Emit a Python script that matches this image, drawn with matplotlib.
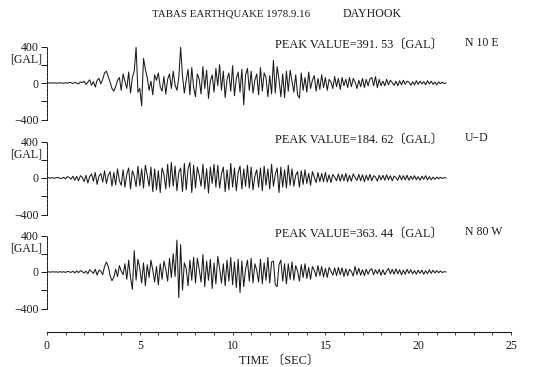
import numpy as np
import matplotlib
matplotlib.use("Agg")
import matplotlib.pyplot as plt

plt.rcParams['font.family'] = ['Liberation Serif', 'Noto Sans CJK JP', 'DejaVu Sans']

DT = 0.1  # sample interval (s)

n10e = [
    0, 0, 2, -2, 1, 0, -1, 2, 0, -3,
    3, -2, 6, 2, -5, 8, -3, -10, 12, 4,
    20, -15, 10, 35, -25, 15, -45, 30, 50, -10,
    40, 110, 130, 70, 10, -60, -90, -40, 30, 60,
    -80, 100, 20, -60, 120, -110, 60, 130, 390, -100,
    -60, -250, 270, 150, 60, -80, 20, -130, 90, 30,
    110, -40, -90, 70, -120, 40, 100, -60, 130, -20,
    -80, 60, 390, 80, -110, 30, 150, -130, 170, -50,
    -150, 100, 40, -120, 180, -60, 140, -170, 20, 90,
    -100, 160, -30, 200, -80, 130, -160, 40, 110, -90,
    190, -140, 50, 120, -100, 150, -240, 90, 160, -80,
    130, -110, 30, 100, -130, 170, -90, 110, 60, -150,
    80, -120, 250, -110, 180, 40, -150, 100, -160, 130,
    -90, 140, 20, -100, 90, -130, -165, 110, -80, 60,
    -100, 120, -60, 30, 80, -90, 50, -70, 90, -50,
    60, -80, 40, 10, -60, 70, -40, 50, -70, 60,
    -30, 40, -50, 60, -40, 50, 10, -60, 30, -40,
    50, -50, 40, -30, 45, 60, -30, 70, -50, 40,
    -30, 20, -30, 40, -20, 30, 5, -25, 20, -30,
    25, -20, 30, -15, 20, 10, -25, 15, -20, 25,
    -15, 20, -10, 15, -20, 25, -10, 20, -15, 10,
    -20, 12, -8, 10, -6, 0,
]

ud = [
    0, 3, -2, 5, -4, 3, 6, -4, -5, 8,
    -10, 15, 5, -12, 20, -25, 18, -30, 25, 10,
    -40, 30, -55, 15, 45, -35, 60, -70, 20, 50,
    -45, 80, -60, 30, 70, -90, 60, -75, 100, -30,
    -80, 90, -100, 40, 110, -120, 80, 20, -95, 130,
    -85, 100, -110, 140, 30, -90, 120, -150, 100, -130,
    80, -160, 110, 40, -120, 150, -100, 170, -90, 130,
    -140, 60, 110, -150, 160, -130, 100, 170, -160, 140,
    -110, 120, 30, -90, 150, -120, 100, -165, 120, -60,
    150, -100, 140, -110, 40, 120, -150, 90, -130, 160,
    -100, 110, -140, 60, 130, -120, 100, -90, 140, -110,
    120, -130, 20, 90, -100, 110, -140, 130, -80, 100,
    -120, 150, -90, 40, 110, -160, 120, -100, 90, -110,
    140, -80, 100, -90, 30, 70, -100, 80, -70, 90,
    -60, 50, -80, 70, 10, -50, 60, -40, 50, -40,
    60, -45, 35, -50, 40, 10, -30, 45, -35, 40,
    -30, 50, -40, 30, -35, 45, 5, -25, 40, -30,
    35, -40, 30, -25, 40, -30, 25, 10, -35, 30,
    -20, 30, -25, 35, -20, 25, -30, 20, 5, -25,
    30, -20, 25, -20, 30, -25, 20, -15, 25, -20,
    15, -25, 20, -15, 25, -20, 15, -20, 10, -15,
    10, -8, 8, -5, 4, 0,
]

n80w = [
    0, 2, -2, 3, -1, 2, -3, 4, -2, 3,
    -5, 6, 2, -4, 8, -10, 12, -8, 15, 5,
    -12, 10, -20, 25, 5, -15, 30, -35, 20, 10,
    -30, 60, 110, 60, -40, -95, -60, 30, -50, 70,
    10, -30, 90, -80, 130, -60, -190, 235, -90, 140,
    40, -120, 100, -150, 80, -60, 130, 20, -110, 60,
    -140, 90, -80, 120, 30, -100, 150, -60, 200, -50,
    350, -280, 300, -200, 100, 40, -150, 130, -90, 160,
    -120, 150, 30, -110, 190, -160, 120, -90, 140, -180,
    100, -130, 170, 40, -120, 90, -150, 130, -100, 160,
    -140, 110, -170, 140, -225, 120, -160, 30, 130, -100,
    150, -120, 90, 20, -110, 140, -130, 100, -90, 160,
    -120, 110, 120, -140, -160, 80, 130, -100, 90, -130,
    90, -80, 110, -90, 70, 10, -100, 80, -60, 90,
    -70, 50, -80, 60, 20, -50, 70, -40, 60, -55,
    40, -60, 50, 10, -35, 45, -40, 50, -30, 45,
    -50, 35, -40, 30, 5, -45, 60, -30, 40, -35,
    25, -40, 30, -25, 20, 35, -30, 25, -20, 30,
    -35, 25, -30, 10, 40, -20, 30, -25, 35, -20,
    25, -30, 20, -25, 30, -15, 25, -20, 15, -25,
    20, -15, 20, -25, 15, -20, 25, -15, 20, -10,
    15, -8, 10, -6, 4, 0,
]

components = ["N 10 E", "U\u2212D", "N 80 W"]
peaks = ["391. 53", "184. 62", "363. 44"]
series = [n10e, ud, n80w]

y_ticks = [-400, -200, 0, 200, 400]
y_labels = ["\u2212400", "", "0", "", "400"]
x_major = [0, 5, 10, 15, 20, 25]

W, H = 533, 367
fig = plt.figure(figsize=(W / 100, H / 100), dpi=100)

left = 47 / W
width = 464 / W
centers = [83, 178, 272]  # pixel rows of zero lines
px_per_400 = 36.5
half_h = 500 / 400 * px_per_400

ink = '#1a1a1a'
fs = 8.5

for vals, comp, pk, cy in zip(series, components, peaks, centers):
    bottom = (H - (cy + half_h)) / H
    ax = fig.add_axes([left, bottom, width, 2 * half_h / H])
    t = np.arange(len(vals)) * DT
    ax.plot(t, vals, color=ink, lw=0.75)
    ax.set_xlim(0, 25)
    ax.set_ylim(-500, 500)
    for s in ['top', 'right', 'bottom']:
        ax.spines[s].set_visible(False)
    ax.spines['left'].set_bounds(-400, 400)
    ax.spines['left'].set_linestyle((0, (3, 1.2)))
    ax.spines['left'].set_linewidth(0.7)
    ax.spines['left'].set_color(ink)
    ax.set_xticks([])
    ax.set_yticks(y_ticks)
    ax.set_yticklabels(y_labels)
    ax.tick_params(axis='y', direction='out', length=4, width=0.7, colors=ink,
                   labelsize=fs, pad=2)
    ax.patch.set_visible(False)
    ax.text(-0.25, 262, "[GAL]", ha='right', va='center', fontsize=fs, color=ink)
    ax.text(12.3, 420, "PEAK VALUE=" + pk + "\u3014GAL\u3015", ha='left', va='center',
            fontsize=fs + 0.3, color=ink)
    ax.text(22.5, 440, comp, ha='left', va='center', fontsize=fs, color=ink)

# bottom time axis
axb = fig.add_axes([left, (H - 332) / H, width, 0.001])
axb.set_xlim(0, 25)
axb.set_ylim(0, 1)
for s in ['top', 'right', 'left']:
    axb.spines[s].set_visible(False)
axb.spines['bottom'].set_linewidth(0.8)
axb.spines['bottom'].set_color(ink)
axb.set_yticks([])
axb.set_xticks(x_major)
axb.set_xticks(np.arange(0, 26, 1), minor=True)
axb.tick_params(axis='x', which='both', direction='out', length=2.5, width=0.6,
                colors=ink, labelsize=fs, pad=3)
axb.set_xlabel("TIME \u3014SEC\u3015", fontsize=fs + 0.3, color=ink, labelpad=2)
axb.patch.set_visible(False)

fig.text(152 / W, 1 - 14 / H, "TABAS EARTHQUAKE 1978.9.16",
         ha='left', va='center', fontsize=7.8, color=ink)
fig.text(343 / W, 1 - 14 / H, "DAYHOOK",
         ha='left', va='center', fontsize=8.6, color=ink)

fig.savefig("out.png", dpi=100)
